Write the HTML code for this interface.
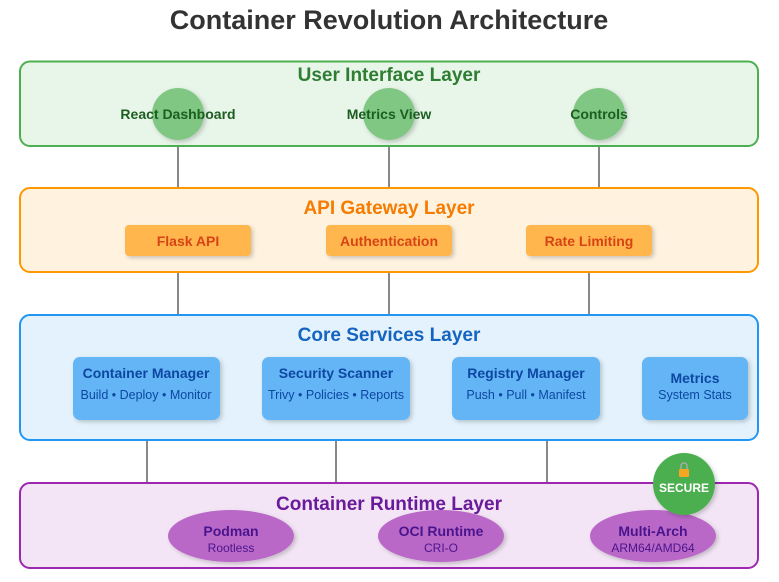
<!DOCTYPE html>
<html><head><style>
html,body{margin:0;padding:0;background:#fff;}
svg{display:block;font-family:"Liberation Sans",Arial,sans-serif;}
</style></head><body>
<svg width="779" height="582" viewBox="0 0 779 582" xmlns="http://www.w3.org/2000/svg">
<defs>
<filter id="sh" x="-20%" y="-20%" width="140%" height="150%"><feDropShadow dx="2" dy="2" stdDeviation="2" flood-color="#000" flood-opacity="0.2"/></filter>
</defs>
<text x="389" y="29" text-anchor="middle" font-size="27" font-weight="bold" fill="#333">Container Revolution Architecture</text>
<g stroke="#888" stroke-width="2">
<line x1="178" y1="146" x2="178" y2="188"/><line x1="389" y1="146" x2="389" y2="188"/><line x1="599" y1="146" x2="599" y2="188"/>
<line x1="178" y1="272" x2="178" y2="315"/><line x1="389" y1="272" x2="389" y2="315"/><line x1="589" y1="272" x2="589" y2="315"/>
<line x1="147" y1="440" x2="147" y2="483"/><line x1="336" y1="440" x2="336" y2="483"/><line x1="547" y1="440" x2="547" y2="483"/>
</g>
<!-- Layer 1 -->
<rect x="20" y="61.5" width="738" height="84.5" rx="10" fill="#e8f5e9" stroke="#4caf50" stroke-width="2"/>
<text x="389" y="81" text-anchor="middle" font-size="19" font-weight="bold" fill="#2e7d32">User Interface Layer</text>
<g fill="#81c784" filter="url(#sh)"><circle cx="178" cy="114" r="26"/><circle cx="389" cy="114" r="26"/><circle cx="599" cy="114" r="26"/></g>
<g font-size="14" font-weight="bold" fill="#1b5e20" text-anchor="middle"><text x="178" y="119">React Dashboard</text><text x="389" y="119">Metrics View</text><text x="599" y="119">Controls</text></g>
<!-- Layer 2 -->
<rect x="20" y="188" width="738" height="84" rx="10" fill="#fff3e0" stroke="#ff9800" stroke-width="2"/>
<text x="389" y="214" text-anchor="middle" font-size="19" font-weight="bold" fill="#f57c00">API Gateway Layer</text>
<g fill="#ffb74d" filter="url(#sh)"><rect x="125" y="225" width="126" height="31" rx="4"/><rect x="326" y="225" width="126" height="31" rx="4"/><rect x="526" y="225" width="126" height="31" rx="4"/></g>
<g font-size="14" font-weight="bold" fill="#d84315" text-anchor="middle"><text x="188" y="246">Flask API</text><text x="389" y="246">Authentication</text><text x="589" y="246">Rate Limiting</text></g>
<!-- Layer 3 -->
<rect x="20" y="315" width="738" height="125" rx="10" fill="#e3f2fd" stroke="#2196f3" stroke-width="2"/>
<text x="389" y="341" text-anchor="middle" font-size="19" font-weight="bold" fill="#1565c0">Core Services Layer</text>
<g fill="#64b5f6" filter="url(#sh)"><rect x="73" y="357" width="147" height="63" rx="7"/><rect x="262" y="357" width="148" height="63" rx="7"/><rect x="452" y="357" width="148" height="63" rx="7"/><rect x="642" y="357" width="106" height="63" rx="7"/></g>
<g font-size="14" font-weight="bold" fill="#0d47a1" text-anchor="middle"><text x="146" y="378">Container Manager</text><text x="336" y="378">Security Scanner</text><text x="526" y="378">Registry Manager</text><text x="695" y="383">Metrics</text></g>
<g font-size="12.5" fill="#0d47a1" text-anchor="middle"><text x="146" y="399">Build • Deploy • Monitor</text><text x="336" y="399">Trivy • Policies • Reports</text><text x="526" y="399">Push • Pull • Manifest</text><text x="695" y="399">System Stats</text></g>
<!-- Layer 4 -->
<rect x="20" y="483" width="738" height="85" rx="10" fill="#f3e5f5" stroke="#9c27b0" stroke-width="2"/>
<text x="389" y="510" text-anchor="middle" font-size="19" font-weight="bold" fill="#6a1b9a">Container Runtime Layer</text>
<g fill="#ba68c8" filter="url(#sh)"><ellipse cx="231" cy="536" rx="63" ry="26"/><ellipse cx="441" cy="536" rx="63" ry="26"/><ellipse cx="653" cy="536" rx="63" ry="26"/></g>
<g font-size="14" font-weight="bold" fill="#4a148c" text-anchor="middle"><text x="231" y="536">Podman</text><text x="441" y="536">OCI Runtime</text><text x="653" y="536">Multi-Arch</text></g>
<g font-size="12" fill="#4a148c" text-anchor="middle"><text x="231" y="552">Rootless</text><text x="441" y="552">CRI-O</text><text x="653" y="552">ARM64/AMD64</text></g>
<circle cx="684" cy="484" r="31" fill="#4caf50" filter="url(#sh)"/>
<rect x="679" y="469" width="10" height="8" rx="1" fill="#f5a623"/>
<path d="M681 469 v-3 a3 3 0 0 1 6 0 v3" fill="none" stroke="#aaa" stroke-width="1.5"/>
<text x="684" y="492" text-anchor="middle" font-size="12" font-weight="bold" fill="#fff">SECURE</text>
</svg>
</body></html>
